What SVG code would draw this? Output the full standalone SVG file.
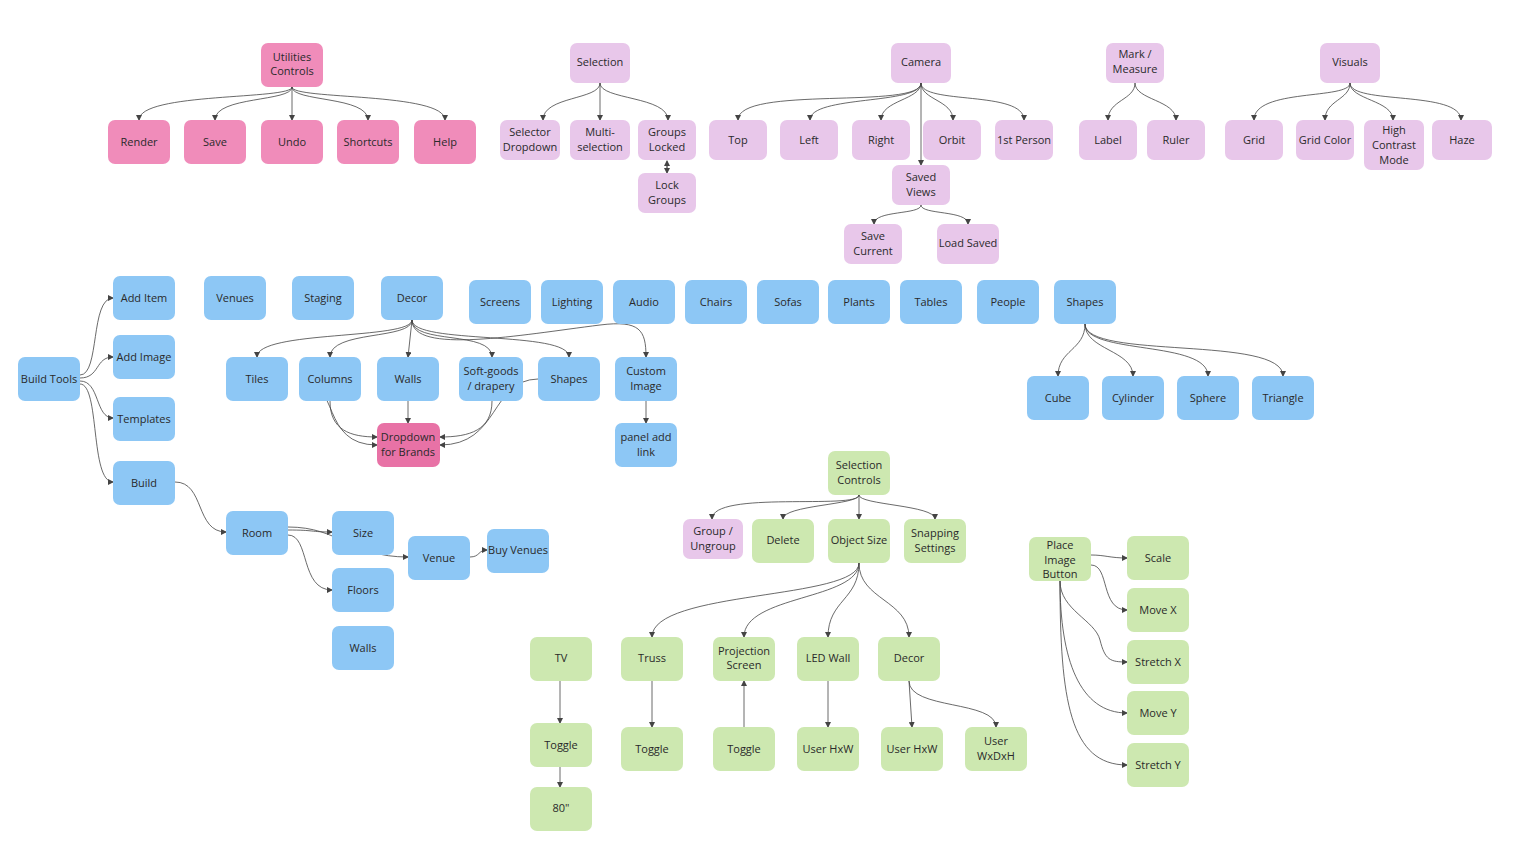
<svg xmlns="http://www.w3.org/2000/svg" width="1515" height="841" viewBox="0 0 1515 841">
<style>
text{font-family:"Open Sans","Noto Sans",sans-serif;font-size:11px;fill:#2a2a2a;text-anchor:middle}
.p rect{fill:#f08cba}.d rect{fill:#e872a6}.l rect{fill:#e8c7ea}.b rect{fill:#8dc7f5}.g rect{fill:#cde8b0}
#c path{fill:none;stroke:#444;stroke-width:0.8;marker-end:url(#a)}
</style>
<defs><marker id="a" markerWidth="6" markerHeight="6" refX="5" refY="3" orient="auto" markerUnits="userSpaceOnUse"><path d="M0,0 L6,3 L0,6z" fill="#444"/></marker></defs>
<rect width="1515" height="841" fill="#fff"/>
<g id="c">
<path d="M292,87 C292,100 139,92 139,120"/><path d="M292,87 C292,102 215,96 215,120"/><path d="M292,87 L292,120"/><path d="M292,87 C292,102 368,96 368,120"/><path d="M292,87 C292,100 445,92 445,120"/>
<path d="M600,83 C600,100 543,96 543,120"/><path d="M600,83 L600,120"/><path d="M600,83 C600,100 668,96 668,120"/><path d="M667,163 L667,173"/><path d="M667,171 L667,161"/>
<path d="M921,83 C921,110 738,85 738,120"/><path d="M921,83 C921,105 810,95 810,120"/><path d="M921,83 C921,100 881,100 881,120"/><path d="M921,83 C921,100 953,100 953,120"/><path d="M921,83 C921,105 1024,90 1024,120"/><path d="M921,83 L921,165"/>
<path d="M921,205 C921,215 874,210 874,224"/><path d="M921,205 C921,215 968,210 968,224"/>
<path d="M1135,83 C1135,100 1108,100 1108,120"/><path d="M1135,83 C1135,100 1176,100 1176,120"/>
<path d="M1350,83 C1350,100 1254,88 1254,120"/><path d="M1350,83 C1350,100 1325,100 1325,120"/><path d="M1350,83 C1350,100 1393,100 1393,120"/><path d="M1350,83 C1350,105 1461,90 1461,120"/>
<path d="M80,375 C100,375 90,298 113,298"/><path d="M80,378 C100,378 95,357 113,357"/><path d="M80,381 C100,381 95,418 113,418"/><path d="M80,384 C100,384 90,482 113,482"/>
<path d="M412,320 C412,340 257,330 257,357"/><path d="M412,320 C412,340 330,330 330,357"/><path d="M412,320 L408,357"/><path d="M412,320 C412,345 492,330 492,357"/><path d="M412,320 C412,345 569,330 569,357"/><path d="M412,320 C412,355 520,335 600,325 C640,320 646,330 646,357"/>
<path d="M408,401 L408,423"/><path d="M300,379 C340,380 320,445 377,445"/><path d="M330,401 C330,430 350,437 377,437"/><path d="M538,379 C490,380 500,445 440,445"/><path d="M492,401 C492,430 470,437 440,437"/><path d="M646,401 L646,423"/>
<path d="M1085,324 C1085,350 1058,350 1058,376"/><path d="M1085,324 C1085,350 1133,350 1133,376"/><path d="M1085,324 C1085,355 1208,340 1208,376"/><path d="M1085,324 C1085,360 1283,335 1283,376"/>
<path d="M175,482 C205,482 195,532 226,532"/><path d="M288,530 C315,530 310,532 332,532"/><path d="M288,527 C340,527 350,557 408,557"/><path d="M288,535 C310,535 300,590 332,590"/><path d="M470,557 C480,557 478,550 487,550"/>
<path d="M859,495 C859,505 783,505 783,519"/><path d="M859,495 L859,519"/><path d="M859,495 C859,505 935,505 935,519"/><path d="M859,495 C859,510 712,490 712,519"/>
<path d="M859,563 C859,600 652,590 652,637"/><path d="M859,563 C859,600 744,595 744,637"/><path d="M859,563 C859,600 828,600 828,637"/><path d="M859,563 C859,600 909,600 909,637"/>
<path d="M560,681 L560,723"/><path d="M560,767 L560,787"/><path d="M652,681 L652,727"/><path d="M744,727 L744,681"/><path d="M828,681 L828,727"/><path d="M909,681 L912,727"/><path d="M909,681 C909,710 996,700 996,727"/>
<path d="M1091,555 C1105,555 1110,558 1127,558"/><path d="M1091,565 C1110,565 1100,610 1127,610"/><path d="M1060,581 C1060,610 1095,620 1100,640 C1105,660 1110,662 1127,662"/><path d="M1060,581 C1060,660 1080,713 1127,713"/><path d="M1060,581 C1060,700 1070,765 1127,765"/>
</g>
<g class="p">
<g id="utilities"><rect x="261" y="43" width="62" height="44" rx="7"/><text x="292" y="61">Utilities</text><text x="292" y="75">Controls</text></g>
<g id="render"><rect x="108" y="120" width="62" height="44" rx="7"/><text x="139" y="146">Render</text></g>
<g id="save"><rect x="184" y="120" width="62" height="44" rx="7"/><text x="215" y="146">Save</text></g>
<g id="undo"><rect x="261" y="120" width="62" height="44" rx="7"/><text x="292" y="146">Undo</text></g>
<g id="shortcuts"><rect x="337" y="120" width="62" height="44" rx="7"/><text x="368" y="146">Shortcuts</text></g>
<g id="help"><rect x="414" y="120" width="62" height="44" rx="7"/><text x="445" y="146">Help</text></g>
</g>
<g class="l">
<g id="selection"><rect x="570" y="43" width="60" height="40" rx="7"/><text x="600" y="66">Selection</text></g>
<g id="selector"><rect x="500" y="120" width="60" height="40" rx="7"/><text x="530" y="136">Selector</text><text x="530" y="151">Dropdown</text></g>
<g id="multi"><rect x="570" y="120" width="60" height="40" rx="7"/><text x="600" y="136">Multi-</text><text x="600" y="151">selection</text></g>
<g id="groupslocked"><rect x="638" y="120" width="58" height="40" rx="7"/><text x="667" y="136">Groups</text><text x="667" y="151">Locked</text></g>
<g id="lockgroups"><rect x="638" y="173" width="58" height="40" rx="7"/><text x="667" y="189">Lock</text><text x="667" y="204">Groups</text></g>
<g id="camera"><rect x="891" y="43" width="60" height="40" rx="7"/><text x="921" y="66">Camera</text></g>
<g id="top"><rect x="709" y="120" width="58" height="40" rx="7"/><text x="738" y="144">Top</text></g>
<g id="left"><rect x="780" y="120" width="58" height="40" rx="7"/><text x="809" y="144">Left</text></g>
<g id="right"><rect x="852" y="120" width="58" height="40" rx="7"/><text x="881" y="144">Right</text></g>
<g id="orbit"><rect x="923" y="120" width="58" height="40" rx="7"/><text x="952" y="144">Orbit</text></g>
<g id="firstperson"><rect x="995" y="120" width="58" height="40" rx="7"/><text x="1024" y="144">1st Person</text></g>
<g id="savedviews"><rect x="892" y="165" width="58" height="40" rx="7"/><text x="921" y="181">Saved</text><text x="921" y="196">Views</text></g>
<g id="savecurrent"><rect x="844" y="224" width="58" height="40" rx="7"/><text x="873" y="240">Save</text><text x="873" y="255">Current</text></g>
<g id="loadsaved"><rect x="937" y="224" width="62" height="40" rx="7"/><text x="968" y="247">Load Saved</text></g>
<g id="mark"><rect x="1106" y="43" width="58" height="40" rx="7"/><text x="1135" y="58">Mark /</text><text x="1135" y="73">Measure</text></g>
<g id="label"><rect x="1079" y="120" width="58" height="40" rx="7"/><text x="1108" y="144">Label</text></g>
<g id="ruler"><rect x="1147" y="120" width="58" height="40" rx="7"/><text x="1176" y="144">Ruler</text></g>
<g id="visuals"><rect x="1320" y="43" width="60" height="40" rx="7"/><text x="1350" y="66">Visuals</text></g>
<g id="grid"><rect x="1225" y="120" width="58" height="40" rx="7"/><text x="1254" y="144">Grid</text></g>
<g id="gridcolor"><rect x="1296" y="120" width="58" height="40" rx="7"/><text x="1325" y="144">Grid Color</text></g>
<g id="contrast"><rect x="1364" y="120" width="60" height="50" rx="7"/><text x="1394" y="134">High</text><text x="1394" y="149">Contrast</text><text x="1394" y="164">Mode</text></g>
<g id="haze"><rect x="1432" y="120" width="60" height="40" rx="7"/><text x="1462" y="144">Haze</text></g>
<g id="groupungroup"><rect x="683" y="519" width="60" height="40" rx="7"/><text x="713" y="535">Group /</text><text x="713" y="550">Ungroup</text></g>
</g>
<g class="b">
<g id="buildtools"><rect x="18" y="357" width="62" height="44" rx="7"/><text x="49" y="383">Build Tools</text></g>
<g id="additem"><rect x="113" y="276" width="62" height="44" rx="7"/><text x="144" y="302">Add Item</text></g>
<g id="addimage"><rect x="113" y="335" width="62" height="44" rx="7"/><text x="144" y="361">Add Image</text></g>
<g id="templates"><rect x="113" y="397" width="62" height="44" rx="7"/><text x="144" y="423">Templates</text></g>
<g id="build"><rect x="113" y="461" width="62" height="44" rx="7"/><text x="144" y="487">Build</text></g>
<g id="venues"><rect x="204" y="276" width="62" height="44" rx="7"/><text x="235" y="302">Venues</text></g>
<g id="staging"><rect x="292" y="276" width="62" height="44" rx="7"/><text x="323" y="302">Staging</text></g>
<g id="decor"><rect x="381" y="276" width="62" height="44" rx="7"/><text x="412" y="302">Decor</text></g>
<g id="screens"><rect x="469" y="280" width="62" height="44" rx="7"/><text x="500" y="306">Screens</text></g>
<g id="lighting"><rect x="541" y="280" width="62" height="44" rx="7"/><text x="572" y="306">Lighting</text></g>
<g id="audio"><rect x="613" y="280" width="62" height="44" rx="7"/><text x="644" y="306">Audio</text></g>
<g id="chairs"><rect x="685" y="280" width="62" height="44" rx="7"/><text x="716" y="306">Chairs</text></g>
<g id="sofas"><rect x="757" y="280" width="62" height="44" rx="7"/><text x="788" y="306">Sofas</text></g>
<g id="plants"><rect x="828" y="280" width="62" height="44" rx="7"/><text x="859" y="306">Plants</text></g>
<g id="tables"><rect x="900" y="280" width="62" height="44" rx="7"/><text x="931" y="306">Tables</text></g>
<g id="people"><rect x="977" y="280" width="62" height="44" rx="7"/><text x="1008" y="306">People</text></g>
<g id="shapes"><rect x="1054" y="280" width="62" height="44" rx="7"/><text x="1085" y="306">Shapes</text></g>
<g id="tiles"><rect x="226" y="357" width="62" height="44" rx="7"/><text x="257" y="383">Tiles</text></g>
<g id="columns"><rect x="299" y="357" width="62" height="44" rx="7"/><text x="330" y="383">Columns</text></g>
<g id="walls"><rect x="377" y="357" width="62" height="44" rx="7"/><text x="408" y="383">Walls</text></g>
<g id="softgoods"><rect x="459" y="357" width="64" height="44" rx="7"/><text x="491" y="375">Soft-goods</text><text x="491" y="390">/ drapery</text></g>
<g id="shapes2"><rect x="538" y="357" width="62" height="44" rx="7"/><text x="569" y="383">Shapes</text></g>
<g id="customimage"><rect x="615" y="357" width="62" height="44" rx="7"/><text x="646" y="375">Custom</text><text x="646" y="390">Image</text></g>
<g id="paneladd"><rect x="615" y="423" width="62" height="44" rx="7"/><text x="646" y="441">panel add</text><text x="646" y="456">link</text></g>
<g id="cube"><rect x="1027" y="376" width="62" height="44" rx="7"/><text x="1058" y="402">Cube</text></g>
<g id="cylinder"><rect x="1102" y="376" width="62" height="44" rx="7"/><text x="1133" y="402">Cylinder</text></g>
<g id="sphere"><rect x="1177" y="376" width="62" height="44" rx="7"/><text x="1208" y="402">Sphere</text></g>
<g id="triangle"><rect x="1252" y="376" width="62" height="44" rx="7"/><text x="1283" y="402">Triangle</text></g>
<g id="room"><rect x="226" y="511" width="62" height="44" rx="7"/><text x="257" y="537">Room</text></g>
<g id="size"><rect x="332" y="511" width="62" height="44" rx="7"/><text x="363" y="537">Size</text></g>
<g id="floors"><rect x="332" y="568" width="62" height="44" rx="7"/><text x="363" y="594">Floors</text></g>
<g id="walls2"><rect x="332" y="626" width="62" height="44" rx="7"/><text x="363" y="652">Walls</text></g>
<g id="venue"><rect x="408" y="536" width="62" height="44" rx="7"/><text x="439" y="562">Venue</text></g>
<g id="buyvenues"><rect x="487" y="529" width="62" height="44" rx="7"/><text x="518" y="554">Buy Venues</text></g>
</g>
<g class="d"><g id="dropdown"><rect x="377" y="423" width="63" height="44" rx="7"/><text x="408" y="441">Dropdown</text><text x="408" y="456">for Brands</text></g></g>
<g class="g">
<g id="selcontrols"><rect x="828" y="451" width="62" height="44" rx="7"/><text x="859" y="469">Selection</text><text x="859" y="484">Controls</text></g>
<g id="delete"><rect x="752" y="519" width="62" height="44" rx="7"/><text x="783" y="544">Delete</text></g>
<g id="objectsize"><rect x="828" y="519" width="62" height="44" rx="7"/><text x="859" y="544">Object Size</text></g>
<g id="snapping"><rect x="904" y="519" width="62" height="44" rx="7"/><text x="935" y="537">Snapping</text><text x="935" y="552">Settings</text></g>
<g id="placeimage"><rect x="1029" y="537" width="62" height="44" rx="7"/><text x="1060" y="549">Place</text><text x="1060" y="564">Image</text><text x="1060" y="578">Button</text></g>
<g id="scale"><rect x="1127" y="536" width="62" height="44" rx="7"/><text x="1158" y="562">Scale</text></g>
<g id="movex"><rect x="1127" y="588" width="62" height="44" rx="7"/><text x="1158" y="614">Move X</text></g>
<g id="stretchx"><rect x="1127" y="640" width="62" height="44" rx="7"/><text x="1158" y="666">Stretch X</text></g>
<g id="movey"><rect x="1127" y="691" width="62" height="44" rx="7"/><text x="1158" y="717">Move Y</text></g>
<g id="stretchy"><rect x="1127" y="743" width="62" height="44" rx="7"/><text x="1158" y="769">Stretch Y</text></g>
<g id="tv"><rect x="530" y="637" width="62" height="44" rx="7"/><text x="561" y="662">TV</text></g>
<g id="toggle1"><rect x="530" y="723" width="62" height="44" rx="7"/><text x="561" y="749">Toggle</text></g>
<g id="eighty"><rect x="530" y="787" width="62" height="44" rx="7"/><text x="561" y="812">80"</text></g>
<g id="truss"><rect x="621" y="637" width="62" height="44" rx="7"/><text x="652" y="662">Truss</text></g>
<g id="projection"><rect x="713" y="637" width="62" height="44" rx="7"/><text x="744" y="655">Projection</text><text x="744" y="669">Screen</text></g>
<g id="ledwall"><rect x="797" y="637" width="62" height="44" rx="7"/><text x="828" y="662">LED Wall</text></g>
<g id="decor2"><rect x="878" y="637" width="62" height="44" rx="7"/><text x="909" y="662">Decor</text></g>
<g id="toggle2"><rect x="621" y="727" width="62" height="44" rx="7"/><text x="652" y="753">Toggle</text></g>
<g id="toggle3"><rect x="713" y="727" width="62" height="44" rx="7"/><text x="744" y="753">Toggle</text></g>
<g id="userhxw1"><rect x="797" y="727" width="62" height="44" rx="7"/><text x="828" y="753">User HxW</text></g>
<g id="userhxw2"><rect x="881" y="727" width="62" height="44" rx="7"/><text x="912" y="753">User HxW</text></g>
<g id="userwxdxh"><rect x="965" y="727" width="62" height="44" rx="7"/><text x="996" y="745">User</text><text x="996" y="760">WxDxH</text></g>
</g>
</svg>
